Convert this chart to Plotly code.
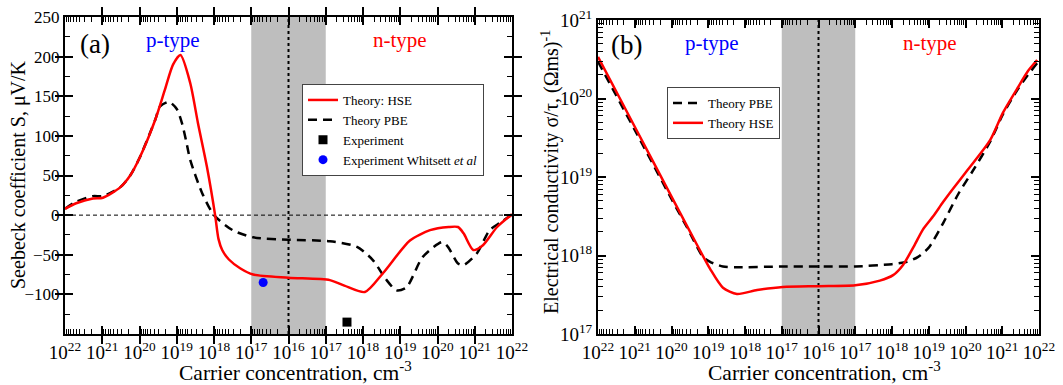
import numpy as np
import plotly.graph_objects as go

# x positions: signed decades from intrinsic 10^16 (negative = p-type, positive = n-type)
X_TICKS = [-6, -5, -4, -3, -2, -1, 0, 1, 2, 3, 4, 5, 6]
X_TICK_EXP = [22, 21, 20, 19, 18, 17, 16, 17, 18, 19, 20, 21, 22]

# Panel (a): Seebeck coefficient, uV/K
hse_a_x = [-6, -5.7, -5.25, -4.98, -4.52, -4.25, -3.99, -3.58, -3.32, -3.1, -2.9, -2.64,
           -2.43, -2.19, -1.97, -1.88, -1.78, -1.6, -1.3, -0.95, 0, 1.11, 1.5, 2.05, 2.54,
           3.26, 3.8, 4.3, 4.55, 4.7, 4.96, 5.22, 5.6, 6]
hse_a_y = [8, 15, 21, 22, 35, 50, 73, 120, 158, 190, 202, 167,
           116, 61, 0, -30, -44, -56, -67, -75, -79, -82, -89, -97, -73,
           -32, -19, -15, -15, -23, -44, -38, -15, 1]
pbe_a_x = [-6, -5.7, -5.25, -4.98, -4.52, -4.25, -3.99, -3.58, -3.45, -3.21, -3.0, -2.86,
           -2.75, -2.64, -2.32, -2.0, -1.5, -0.95, 0, 1.11, 1.84, 2.27, 2.6, 2.9, 3.17, 3.6,
           4.12, 4.28, 4.55, 4.7, 5.06, 5.4, 5.7, 6]
pbe_a_y = [8, 17, 24, 24, 35, 50, 73, 120, 137, 143, 134, 116,
           94, 70, 28, 0, -19, -28, -31, -33, -40, -57, -80, -95, -91, -53,
           -34, -40, -61, -63, -48, -19, -9, 1]
exp_x = [1.57]
exp_y = [-135]
whit_x = [-0.68]
whit_y = [-85]

# Panel (b): electrical conductivity sigma/tau, (Ohm m s)^-1
hse_b_x = [-6, -5, -4, -3.3, -2.95, -2.6, -2.22, -1.67, -0.97, 0, 1.0, 1.67, 2.03, 2.3,
           2.6, 2.84, 3.12, 3.39, 3.66, 4.04, 4.67, 5.02, 5.4, 5.7, 5.95]
hse_b_y = [3.39e20, 4.37e19, 5.62e18, 1.35e18, 6.76e17, 3.89e17, 3.24e17, 3.63e17,
           3.98e17, 4.07e17, 4.17e17, 4.79e17, 5.62e17, 7.59e17, 1.32e18, 2.14e18,
           3.16e18, 4.79e18, 7.08e18, 1.2e19, 2.95e19, 6.61e19, 1.32e20, 2.24e20, 3.09e20]
pbe_b_x = [-6, -5, -4, -3.58, -3.14, -2.95, -2.6, -2.2, -1, 0, 1, 2.0, 2.41, 2.7, 3.0,
           3.4, 3.8, 4.2, 4.67, 5.02, 5.4, 5.7, 5.95]
pbe_b_y = [2.95e20, 3.98e19, 5.25e18, 2.29e18, 9.55e17, 8.32e17, 7.24e17, 7.08e17,
           7.24e17, 7.24e17, 7.24e17, 7.76e17, 8.32e17, 9.55e17, 1.26e18, 2.63e18,
           6.03e18, 1.20e19, 2.82e19, 6.31e19, 1.26e20, 2.0e20, 2.82e20]

S_TICKS = [-100, -50, 0, 50, 100, 150, 200, 250]
S_MINOR = [-125, -75, -25, 25, 75, 125, 175, 225]
SIG_TICK_EXP = [17, 18, 19, 20, 21]

FONT = "Liberation Serif"
RED = "#ff0000"
DASH = "9px,6px"

fig = go.Figure()

# traces are spread over the overlaid twin axes (identical ranges) so that every
# twin axis, which carries the minor ticks, belongs to a drawn subplot
fig.add_trace(go.Scatter(x=pbe_a_x, y=pbe_a_y, mode="lines", name="Theory PBE",
                         line=dict(color="black", width=2.5, dash=DASH, shape="spline", smoothing=0.7),
                         xaxis="x", yaxis="y3", legend="legend", legendrank=2))
fig.add_trace(go.Scatter(x=hse_a_x, y=hse_a_y, mode="lines", name="Theory: HSE",
                         line=dict(color=RED, width=2.5, shape="spline", smoothing=0.7),
                         xaxis="x3", yaxis="y", legend="legend", legendrank=1))
fig.add_trace(go.Scatter(x=exp_x, y=exp_y, mode="markers", name="Experiment",
                         marker=dict(symbol="square", color="black", size=9),
                         xaxis="x", yaxis="y", legend="legend", legendrank=3))
fig.add_trace(go.Scatter(x=whit_x, y=whit_y, mode="markers", name="Experiment Whitsett <i>et al</i>",
                         marker=dict(symbol="circle", color="#0000ff", size=9),
                         xaxis="x", yaxis="y", legend="legend", legendrank=4))

fig.add_trace(go.Scatter(x=pbe_b_x, y=pbe_b_y, mode="lines", name="Theory PBE",
                         line=dict(color="black", width=2.5, dash=DASH, shape="spline", smoothing=0.7),
                         xaxis="x2", yaxis="y2", legend="legend2", legendrank=1))
fig.add_trace(go.Scatter(x=hse_b_x, y=hse_b_y, mode="lines", name="Theory HSE",
                         line=dict(color=RED, width=2.5, shape="spline", smoothing=0.7),
                         xaxis="x4", yaxis="y4", legend="legend2", legendrank=2))

# minor tick positions on the decade axis
minor_x = []
for k in range(6):
    for m in range(2, 10):
        minor_x.append(-(k + np.log10(m)))
        minor_x.append(k + np.log10(m))
minor_x.sort()
minor_sig = [m * 10.0 ** e for e in range(17, 21) for m in range(2, 10)]

ticktext_x = [f"10<sup>{e}</sup>" for e in X_TICK_EXP]

frame = dict(showline=True, linecolor="black", linewidth=2, mirror="allticks",
             showgrid=False, zeroline=False, automargin=False, tickcolor="black")

xcommon = dict(range=[-6, 6], tickmode="array", tickvals=X_TICKS, ticktext=ticktext_x,
               ticks="inside", ticklen=8, tickwidth=1.5,
               tickfont=dict(family=FONT, size=19, color="black"), **frame)
xminor = dict(range=[-6, 6], tickmode="array", tickvals=minor_x, ticks="inside",
              ticklen=5, tickwidth=1, showticklabels=False, **frame)

fig.update_layout(
    width=1063, height=385,
    margin=dict(l=0, r=0, t=0, b=0),
    paper_bgcolor="white", plot_bgcolor="white",
    font=dict(family=FONT, color="black"),
    xaxis=dict(domain=[65 / 1063, 512 / 1063], anchor="y", **xcommon),
    xaxis3=dict(overlaying="x", anchor="y", **xminor),
    yaxis=dict(domain=[1 - 334 / 385, 1 - 17 / 385], anchor="x", range=[-150, 250],
               tickmode="array", tickvals=S_TICKS,
               ticks="inside", ticklen=8, tickwidth=1.5,
               tickfont=dict(family=FONT, size=17, color="black"), **frame),
    yaxis3=dict(overlaying="y", anchor="x", range=[-150, 250], tickmode="array",
                tickvals=S_MINOR, ticks="inside", ticklen=5, tickwidth=1,
                showticklabels=False, **frame),
    xaxis2=dict(domain=[598 / 1063, 1039 / 1063], anchor="y2", **xcommon),
    xaxis4=dict(overlaying="x2", anchor="y2", **xminor),
    yaxis2=dict(domain=[1 - 334 / 385, 1 - 20 / 385], anchor="x2", type="log", range=[17, 21],
                tickmode="array", tickvals=[10.0 ** e for e in SIG_TICK_EXP],
                ticktext=[f"10<sup>{e}</sup>" for e in SIG_TICK_EXP],
                ticks="inside", ticklen=8, tickwidth=1.5,
                tickfont=dict(family=FONT, size=19, color="black"), **frame),
    yaxis4=dict(overlaying="y2", anchor="x2", type="log", range=[17, 21], tickmode="array",
                tickvals=minor_sig, ticks="inside", ticklen=5, tickwidth=1,
                showticklabels=False, **frame),
    legend=dict(x=302 / 1063, y=1 - 84 / 385, xanchor="left", yanchor="top",
                bgcolor="white", bordercolor="#444", borderwidth=1,
                font=dict(family=FONT, size=13, color="black"), tracegroupgap=0),
    legend2=dict(x=667 / 1063, y=1 - 87 / 385, xanchor="left", yanchor="top",
                 bgcolor="white", bordercolor="#444", borderwidth=1,
                 font=dict(family=FONT, size=13, color="black"), tracegroupgap=0),
    showlegend=True,
)

# shaded intrinsic region and dotted midline, both panels
for xr, yr in (("x", "y"), ("x2", "y2")):
    fig.add_shape(type="rect", xref=xr, yref=f"{yr} domain", x0=-1, x1=1, y0=0, y1=1,
                  fillcolor="#bebebe", line=dict(width=0), layer="below")
    fig.add_shape(type="line", xref=xr, yref=f"{yr} domain", x0=0, x1=0, y0=0, y1=1,
                  line=dict(color="black", width=2, dash="dot"), layer="below")
fig.add_shape(type="line", xref="x domain", yref="y", x0=0, x1=1, y0=0, y1=0,
              line=dict(color="black", width=1, dash="4px,3px"), layer="below")

ann = [
    dict(text="(a)", x=78 / 1063, y=1 - 44 / 385, xanchor="left", size=27, color="black"),
    dict(text="p-type", x=173 / 1063, y=1 - 40 / 385, xanchor="center", size=21, color="#0000ff"),
    dict(text="n-type", x=400 / 1063, y=1 - 40 / 385, xanchor="center", size=21, color=RED),
    dict(text="(b)", x=609 / 1063, y=1 - 45 / 385, xanchor="left", size=27, color="black"),
    dict(text="p-type", x=712 / 1063, y=1 - 43 / 385, xanchor="center", size=21, color="#0000ff"),
    dict(text="n-type", x=930 / 1063, y=1 - 43 / 385, xanchor="center", size=21, color=RED),
    dict(text="Carrier concentration, cm<sup>-3</sup>", x=295 / 1063, y=1 - 371 / 385,
         xanchor="center", size=21.5, color="black"),
    dict(text="Carrier concentration, cm<sup>-3</sup>", x=824 / 1063, y=1 - 371 / 385,
         xanchor="center", size=21.5, color="black"),
]
for a in ann:
    fig.add_annotation(text=a["text"], x=a["x"], y=a["y"], xref="paper", yref="paper",
                       xanchor=a["xanchor"], yanchor="middle", showarrow=False,
                       font=dict(family=FONT, size=a["size"], color=a["color"]))

fig.add_annotation(text="Seebeck coefficient S, μV/K", x=18 / 1063, y=1 - 175 / 385,
                   xref="paper", yref="paper", textangle=-90, showarrow=False,
                   xanchor="center", yanchor="middle",
                   font=dict(family=FONT, size=20, color="black"))
fig.add_annotation(text="Electrical conductivity σ/τ, (Ωms)<sup>-1</sup>", x=551 / 1063,
                   y=1 - 172 / 385, xref="paper", yref="paper", textangle=-90, showarrow=False,
                   xanchor="center", yanchor="middle",
                   font=dict(family=FONT, size=20, color="black"))

fig.write_html("out.html")
